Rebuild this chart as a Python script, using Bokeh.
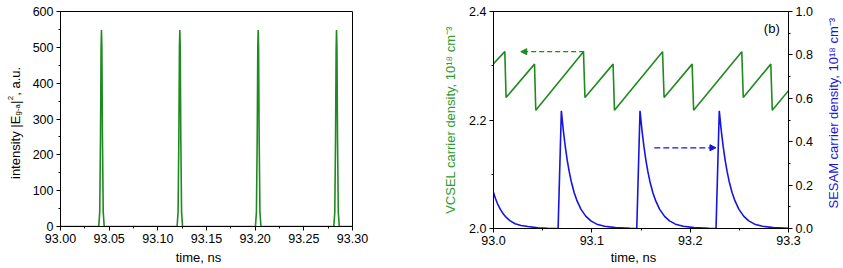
import math
from bokeh.plotting import figure
from bokeh.models import (Range1d, LinearAxis, FixedTicker, PrintfTickFormatter,
                          Label, Arrow, NormalHead)
from bokeh.layouts import row
from bokeh.embed import file_html
from bokeh.resources import INLINE

# ---------------- data ----------------
# (a) intensity pulses
pulse_t = [93.0,
           93.0393, 93.0403, 93.0411, 93.0417, 93.0421, 93.0425, 93.0431, 93.0439, 93.0449,
           93.1198, 93.1208, 93.1216, 93.1222, 93.1226, 93.1230, 93.1236, 93.1244, 93.1254,
           93.2003, 93.2013, 93.2021, 93.2027, 93.2031, 93.2035, 93.2041, 93.2049, 93.2059,
           93.2808, 93.2818, 93.2826, 93.2832, 93.2836, 93.2840, 93.2846, 93.2854, 93.2864,
           93.3]
pulse_i = [0,
           0, 40, 250, 500, 548, 500, 250, 40, 0,
           0, 40, 250, 500, 548, 500, 250, 40, 0,
           0, 40, 250, 500, 548, 500, 250, 40, 0,
           0, 40, 250, 500, 548, 500, 250, 40, 0,
           0]

# (b) VCSEL carrier density (left axis)
vcsel_t = [93.0, 93.0115, 93.0128, 93.0417, 93.0430, 93.0915, 93.0930, 93.1216, 93.1230,
           93.1719, 93.1735, 93.2020, 93.2035, 93.2525, 93.2540, 93.2820, 93.2835, 93.3]
vcsel_n = [2.304, 2.326, 2.2415, 2.303, 2.218, 2.326, 2.2415, 2.303, 2.218,
           2.326, 2.2415, 2.303, 2.218, 2.326, 2.2415, 2.303, 2.218, 2.254]

# (b) SESAM carrier density (right axis)
sesam_t = [93.0, 93.002, 93.004, 93.007, 93.010, 93.013, 93.017, 93.022, 93.028, 93.035, 93.045, 93.055,
           93.0657, 93.069, 93.071, 93.073, 93.075, 93.077, 93.079, 93.082, 93.085, 93.089,
           93.094, 93.099, 93.105, 93.113, 93.124, 93.139,
           93.1457, 93.149, 93.151, 93.153, 93.155, 93.157, 93.159, 93.162, 93.165, 93.169,
           93.174, 93.179, 93.185, 93.193, 93.204, 93.219,
           93.2263, 93.2296, 93.2316, 93.2336, 93.2356, 93.2376, 93.2396, 93.2426, 93.2456, 93.2496,
           93.2546, 93.2596, 93.2656, 93.2736, 93.2846, 93.2996, 93.3]
sesam_n = [0.166, 0.138, 0.115, 0.088, 0.067, 0.051, 0.035, 0.022, 0.014, 0.009, 0.003, 0.001,
           0.0, 0.542, 0.452, 0.377, 0.314, 0.262, 0.218, 0.166, 0.127, 0.088,
           0.056, 0.035, 0.020, 0.010, 0.004, 0.001,
           0.0, 0.542, 0.452, 0.377, 0.314, 0.262, 0.218, 0.166, 0.127, 0.088,
           0.056, 0.035, 0.020, 0.010, 0.004, 0.001,
           0.0, 0.542, 0.452, 0.377, 0.314, 0.262, 0.218, 0.166, 0.127, 0.088,
           0.056, 0.035, 0.020, 0.010, 0.004, 0.001, 0.001]

# ticks
a_xticks = [93.00, 93.05, 93.10, 93.15, 93.20, 93.25, 93.30]
a_yticks = [0, 100, 200, 300, 400, 500, 600]
b_xticks = [93.0, 93.1, 93.2, 93.3]
b_yticks = [2.0, 2.2, 2.4]
b_y2ticks = [0.0, 0.2, 0.4, 0.6, 0.8, 1.0]

GREEN = "#1f8a1f"
GREEN_TXT = "#2e9b2e"
BLUE = "#1515e0"
FONT = "Liberation Sans"
TICK_FS = "12.5px"
LAB_FS = "13px"
SMALL_FS = "7.8px"


def style_axis(ax, ticks, minor, fmt):
    ax.ticker = FixedTicker(ticks=ticks, minor_ticks=minor)
    ax.formatter = PrintfTickFormatter(format=fmt)
    ax.axis_line_color = "black"
    ax.major_tick_line_color = "black"
    ax.minor_tick_line_color = "black"
    ax.major_tick_in = 0
    ax.major_tick_out = 4
    ax.minor_tick_in = 0
    ax.minor_tick_out = 2
    ax.major_label_text_font = FONT
    ax.major_label_text_font_size = TICK_FS
    ax.major_label_text_color = "black"
    ax.major_label_standoff = 3
    ax.axis_label_text_font = FONT
    ax.axis_label_text_font_size = LAB_FS
    ax.axis_label_text_font_style = "normal"


def mid(ticks):
    return [(ticks[i] + ticks[i + 1]) / 2 for i in range(len(ticks) - 1)]


def clab(x, y, text, size=LAB_FS, angle=0.0, align="left", baseline="alphabetic", color="black"):
    return Label(x=x, y=y, x_units="canvas", y_units="canvas", text=text, angle=angle,
                 text_font=FONT, text_font_size=size, text_align=align,
                 text_baseline=baseline, text_color=color)


# ---------------- panel (a) ----------------
pa = figure(frame_width=292, frame_height=215, output_backend="svg", toolbar_location=None,
            x_range=Range1d(93.0, 93.3), y_range=Range1d(0, 600),
            min_border_left=60, min_border_right=68, min_border_top=11, min_border_bottom=42)
pa.grid.visible = False
pa.outline_line_color = "black"
pa.line(pulse_t, pulse_i, color=GREEN, line_width=1.6)
style_axis(pa.xaxis[0], a_xticks, mid(a_xticks), "%.2f")
style_axis(pa.yaxis[0], a_yticks, mid(a_yticks), "%d")

# composite y label: intensity |E_{g-a}|^2, a.u.  (canvas coordinates; panels put on the
# empty right side so they do not push the frame)
R = math.pi / 2
pa.add_layout(clab(15, 178.5, "intensity |E", angle=R), "right")
pa.add_layout(clab(17, 115.0, "g-a", size=SMALL_FS, angle=R), "right")
pa.add_layout(clab(15, 103.5, "|", angle=R), "right")
pa.add_layout(clab(10, 99.8, "2", size=SMALL_FS, angle=R), "right")
pa.add_layout(clab(15, 95.2, ", a.u.", angle=R), "right")
pa.add_layout(clab(198, 257, "time, ns", align="center", baseline="middle"), "below")

# ---------------- panel (b) ----------------
pb = figure(frame_width=295, frame_height=217, output_backend="svg", toolbar_location=None,
            x_range=Range1d(93.0, 93.3), y_range=Range1d(2.0, 2.4),
            min_border_left=73, min_border_right=55, min_border_top=9, min_border_bottom=42)
pb.grid.visible = False
pb.outline_line_color = "black"
pb.extra_y_ranges = {"sesam": Range1d(0, 1.0)}
pb.line(vcsel_t, vcsel_n, color=GREEN, line_width=1.6)
pb.line(sesam_t, sesam_n, color=BLUE, line_width=1.6, y_range_name="sesam")
style_axis(pb.xaxis[0], b_xticks, mid(b_xticks), "%.1f")
style_axis(pb.yaxis[0], b_yticks, mid(b_yticks), "%.1f")
pb.yaxis[0].axis_label = "VCSEL carrier density, 10¹⁸ cm⁻³"
pb.yaxis[0].axis_label_text_color = GREEN_TXT
pb.yaxis[0].axis_label_standoff = 8
ax2 = LinearAxis(y_range_name="sesam")
style_axis(ax2, b_y2ticks, mid(b_y2ticks), "%.1f")
pb.add_layout(ax2, "right")
pb.add_layout(clab(413, 208, "SESAM carrier density, 10¹⁸ cm⁻³", angle=R, color=BLUE), "right")

pb.add_layout(clab(213, 257, "time, ns", align="center", baseline="middle"), "below")
pb.add_layout(Label(x=93.283, y=2.368, text="(b)", text_font=FONT, text_font_size=LAB_FS,
                    text_align="center", text_baseline="middle", text_color="black"))

pb.add_layout(Arrow(end=NormalHead(size=6, fill_color=GREEN, line_color=GREEN),
                    x_start=93.0922, y_start=2.326, x_end=93.0277, y_end=2.326,
                    line_color=GREEN, line_width=1.3, line_dash="5 3"))
pb.add_layout(Arrow(end=NormalHead(size=6, fill_color=BLUE, line_color=BLUE),
                    x_start=93.1635, y_start=0.372, x_end=93.2262, y_end=0.372,
                    line_color=BLUE, line_width=1.3, line_dash="6 3", y_range_name="sesam"))

layout = row(pa, pb)
open("out.html", "w").write(file_html(layout, INLINE))
